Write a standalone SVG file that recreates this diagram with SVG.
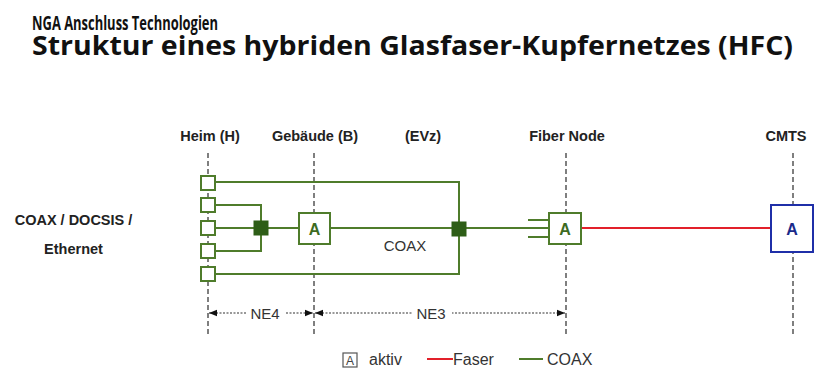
<svg xmlns="http://www.w3.org/2000/svg" width="814" height="372" viewBox="0 0 814 372">
<defs>
<style>
.t1{font-family:"Open Sans","Liberation Sans",sans-serif;font-weight:bold;fill:#111}
.lbl{font-family:"Liberation Sans",Arial,sans-serif;font-weight:bold;font-size:14.5px;fill:#222;text-anchor:middle}
.txt{font-family:"Liberation Sans",Arial,sans-serif;font-size:15px;fill:#333}
.lg{font-family:"Liberation Sans",Arial,sans-serif;font-size:16px;fill:#333}
.vd{stroke:#555;stroke-width:1.5;stroke-dasharray:5,3;fill:none}
.g{stroke:#4f7c2b;stroke-width:2;fill:none}
.box{fill:#fff;stroke:#4f7c2b;stroke-width:2}
.sq{fill:#2e5e17;stroke:#2e5e17;stroke-width:1}
.atx{font-family:"Liberation Sans",Arial,sans-serif;font-weight:bold;font-size:16px;fill:#3d6b1f;text-anchor:middle}
.dim{stroke:#333;stroke-width:1.2;stroke-dasharray:2,1.5;fill:none}
</style>
<marker id="ah" viewBox="0 0 10 10" refX="10" refY="5" markerWidth="10" markerHeight="8" orient="auto-start-reverse" markerUnits="userSpaceOnUse">
<path d="M0,1 L10,5 L0,9 z" fill="#111"/>
</marker>
</defs>
<rect width="814" height="372" fill="#fff"/>

<g id="title">
<text class="t1" x="32" y="30" font-size="19" textLength="186" lengthAdjust="spacingAndGlyphs">NGA Anschluss Technologien</text>
<text class="t1" x="32" y="55" font-size="27" textLength="761" lengthAdjust="spacingAndGlyphs">Struktur eines hybriden Glasfaser-Kupfernetzes (HFC)</text>
</g>

<g id="column-labels">
<text class="lbl" x="210" y="141">Heim (H)</text>
<text class="lbl" x="315" y="141">Gebäude (B)</text>
<text class="lbl" x="423" y="141">(EVz)</text>
<text class="lbl" x="567" y="141">Fiber Node</text>
<text class="lbl" x="786" y="141">CMTS</text>
</g>

<g id="side-label">
<text class="lbl" x="73.5" y="225">COAX / DOCSIS /</text>
<text class="lbl" x="73.5" y="254">Ethernet</text>
</g>

<g id="guides">
<line class="vd" x1="208" y1="153" x2="208" y2="336"/>
<line class="vd" x1="314" y1="153" x2="314" y2="336"/>
<line class="vd" x1="566" y1="153" x2="566" y2="336"/>
<line class="vd" x1="793" y1="153" x2="793" y2="336"/>
</g>

<g id="connectors">
<polyline class="g" points="216,182 459,182 459,274 216,274"/>
<polyline class="g" points="216,205 261,205 261,251 216,251"/>
<line class="g" x1="216" y1="228" x2="299" y2="228"/>
<line class="g" x1="330" y1="228" x2="549" y2="228"/>
<line class="g" x1="528" y1="220" x2="549" y2="220"/>
<line class="g" x1="528" y1="237" x2="549" y2="237"/>
<line stroke="#e2202a" stroke-width="2" x1="581" y1="228" x2="771" y2="228"/>
<text class="txt" x="405" y="251" text-anchor="middle">COAX</text>
</g>

<g id="heim-boxes">
<rect class="box" x="201" y="176" width="14" height="14"/>
<rect class="box" x="201" y="198" width="14" height="14"/>
<rect class="box" x="201" y="221" width="14" height="14"/>
<rect class="box" x="201" y="244" width="14" height="14"/>
<rect class="box" x="201" y="267" width="14" height="14"/>
</g>

<g id="splitter-b">
<rect class="sq" x="254" y="221" width="14" height="14"/>
</g>

<g id="amp-b">
<rect class="box" x="299" y="213" width="31" height="31"/>
<text class="atx" x="314.5" y="234.5">A</text>
</g>

<g id="evz">
<rect class="sq" x="452" y="222" width="14" height="14"/>
</g>

<g id="fiber-node">
<rect class="box" x="549" y="213" width="32" height="31"/>
<text class="atx" x="565" y="234.5">A</text>
</g>

<g id="cmts">
<rect fill="#fff" stroke="#1f2fa8" stroke-width="2" x="771" y="205" width="42" height="47"/>
<text class="atx" x="792" y="234.5" style="fill:#1a2a8a">A</text>
</g>

<g id="dimensions">
<line class="dim" x1="209" y1="313" x2="313" y2="313" marker-start="url(#ah)" marker-end="url(#ah)"/>
<line class="dim" x1="315" y1="313" x2="565" y2="313" marker-start="url(#ah)" marker-end="url(#ah)"/>
<rect x="247" y="304" width="39" height="18" fill="#fff"/>
<text class="txt" x="265" y="319" text-anchor="middle">NE4</text>
<rect x="412" y="304" width="40" height="18" fill="#fff"/>
<text class="txt" x="431" y="319" text-anchor="middle">NE3</text>
</g>

<g id="legend">
<rect x="343" y="353" width="14" height="14" fill="#fff" stroke="#555" stroke-width="1.2"/>
<text x="350" y="365" font-family="Liberation Sans,Arial,sans-serif" font-size="12" fill="#444" text-anchor="middle">A</text>
<text class="lg" x="369" y="365">aktiv</text>
<line stroke="#e2202a" stroke-width="2" x1="427" y1="359" x2="453" y2="359"/>
<text class="lg" x="453" y="365">Faser</text>
<line stroke="#4f7c2b" stroke-width="2" x1="519" y1="359" x2="543" y2="359"/>
<text class="lg" x="547" y="365">COAX</text>
</g>
</svg>
